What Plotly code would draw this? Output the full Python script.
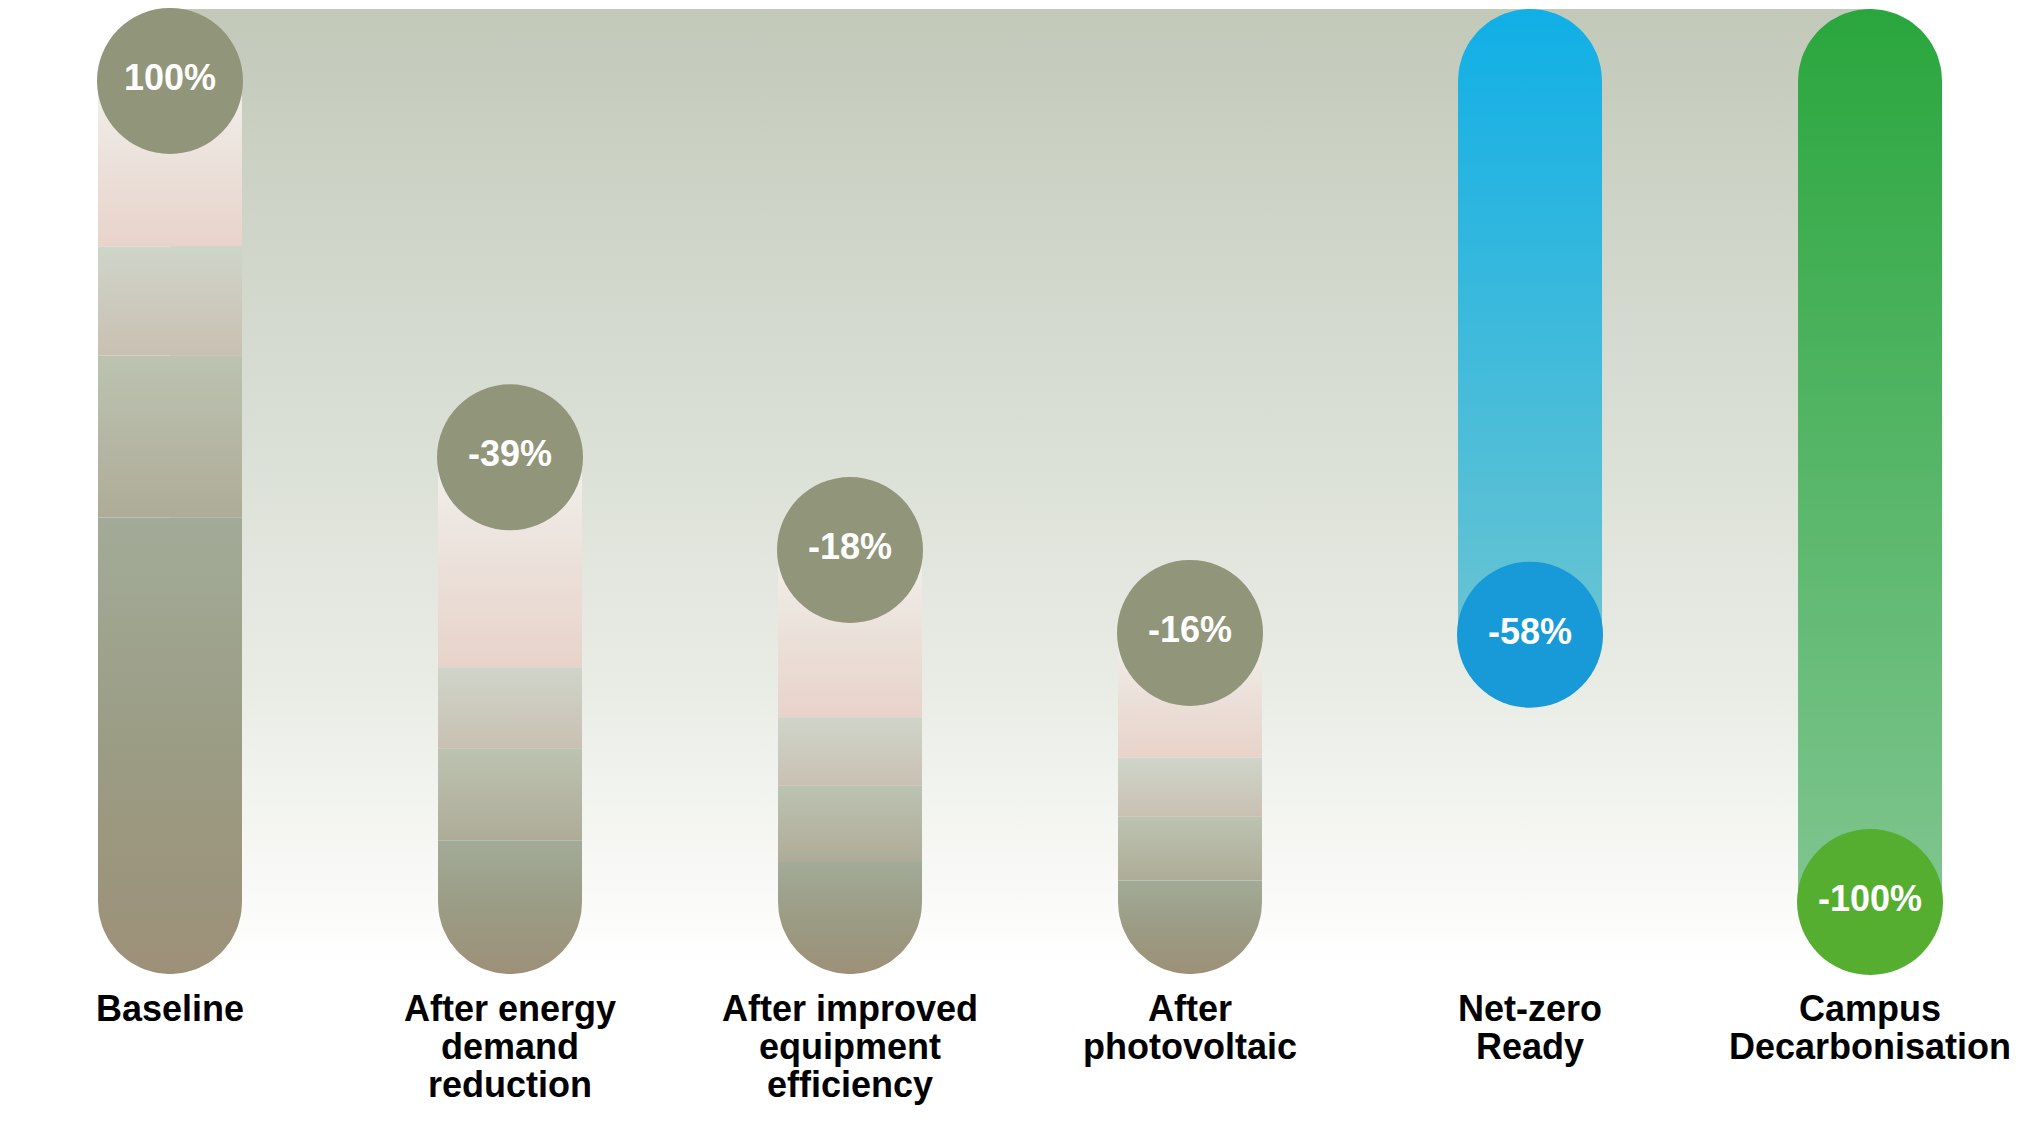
import numpy as np
import plotly.graph_objects as go

# Stages of the decarbonisation pathway
stages = [
    "Baseline",
    "After energy<br>demand<br>reduction",
    "After improved<br>equipment<br>efficiency",
    "After<br>photovoltaic",
    "Net-zero<br>Ready",
    "Campus<br>Decarbonisation",
]
badges = ["100%", "-39%", "-18%", "-16%", "-58%", "-100%"]

# Remaining level at the top of each grey pill (baseline = 100)
levels = [100, 61, 51.4, 42.8]
# Band edges inside each grey pill, bottom up
bands = [
    [47.3, 64.1, 75.4],
    [13.8, 23.4, 31.8],
    [11.6, 19.5, 26.6],
    [9.7, 16.3, 22.4],
]
# The last two bars hang from the top down to these levels
hanging_end = [27.7, 0]

# Figure geometry
W, H = 2039, 1126
X_RANGE = [-0.5, 5.497]
Y_RANGE = [-15.75, 100.93]
px_x = W / (X_RANGE[1] - X_RANGE[0])
px_y = H / (Y_RANGE[1] - Y_RANGE[0])
HALF_W = 72
hw = HALF_W / px_x
ry = HALF_W / px_y
BADGE = 146

FONT = "Liberation Sans, Arial, sans-serif"

# Band colours, bottom colour -> top colour
band_colors = [
    [[0, "#9d9078"], [0.5, "#9b9c84"], [1, "#a2ab98"]],
    [[0, "#aeac98"], [1, "#bcc3b1"]],
    [[0, "#c9c0b3"], [1, "#cfd5c9"]],
    [[0, "#e8d3ca"], [0.5, "#ebe1da"], [1, "#f2f0eb"]],
]
hanging_colors = [
    [[0, "#68c4d2"], [1, "#10afe6"]],
    [[0, "#80c590"], [1, "#2aa63d"]],
]
badge_colors = ["#91957a"] * 4 + ["#1899d8", "#55ae2f"]


def pill(cx, lo, hi, round_bottom=False, round_top=False, n=48):
    xs, ys = [], []
    if round_bottom:
        t = np.linspace(np.pi, 2 * np.pi, n)
        xs += list(cx + hw * np.cos(t))
        ys += list(lo + ry + ry * np.sin(t))
    else:
        xs += [cx - hw, cx + hw]
        ys += [lo, lo]
    if round_top:
        t = np.linspace(0, np.pi, n)
        xs += list(cx + hw * np.cos(t))
        ys += list(hi - ry + ry * np.sin(t))
    else:
        xs += [cx + hw, cx - hw]
        ys += [hi, hi]
    xs.append(xs[0])
    ys.append(ys[0])
    return xs, ys


def gradient_shape(xs, ys, cs):
    return go.Scatter(
        x=xs, y=ys, mode="lines", fill="toself",
        line=dict(width=0, color="rgba(0,0,0,0)"),
        fillgradient=dict(type="vertical", colorscale=cs),
        hoverinfo="skip", showlegend=False,
    )


fig = go.Figure()

# Background panel fading to white
fig.add_trace(gradient_shape(
    [0, 5, 5, 0, 0], [0, 0, 100, 100, 0],
    [[0, "#ffffff"], [0.1, "#f8f9f6"], [0.3, "#e9ece5"], [0.65, "#d5dbd0"], [1, "#c3c9b9"]],
))

# Grey stacked pills
badge_y = []
for i, top in enumerate(levels):
    edges = [0] + bands[i] + [top - ry]
    for k in range(len(edges) - 1):
        xs, ys = pill(i, edges[k], edges[k + 1], round_bottom=(k == 0))
        fig.add_trace(gradient_shape(xs, ys, band_colors[k]))
    badge_y.append(top - ry)

# Hanging bars
for j, end in enumerate(hanging_end):
    i = len(levels) + j
    xs, ys = pill(i, end + ry, 100, round_top=True)
    fig.add_trace(gradient_shape(xs, ys, hanging_colors[j]))
    badge_y.append(end + ry)

# Badges
fig.add_trace(go.Scatter(
    x=list(range(len(badges))), y=badge_y,
    mode="markers+text",
    marker=dict(size=BADGE, color=badge_colors, line=dict(width=0)),
    text=[f"<b>{b}</b>" for b in badges],
    textposition="middle center",
    textfont=dict(family=FONT, size=36, color="white"),
    hoverinfo="skip", showlegend=False,
))

# Stage labels, one annotation per line to keep the tight line spacing
annotations = []
for i, label in enumerate(stages):
    for k, line in enumerate(label.split("<br>")):
        annotations.append(dict(
            x=i, y=0, xref="x", yref="y",
            text=f"<b>{line}</b>", showarrow=False,
            yanchor="middle", yshift=-(34 + 38 * k),
            font=dict(family=FONT, size=36, color="black"),
        ))

fig.update_layout(
    width=W, height=H,
    margin=dict(l=0, r=0, t=0, b=0),
    paper_bgcolor="white", plot_bgcolor="white",
    showlegend=False,
    annotations=annotations,
    xaxis=dict(range=X_RANGE, visible=False, fixedrange=True),
    yaxis=dict(range=Y_RANGE, visible=False, fixedrange=True),
)

fig.write_html(
    "out.html",
    config={"displayModeBar": False},
    post_script="document.body.style.margin='0';document.body.style.overflow='hidden';",
)
